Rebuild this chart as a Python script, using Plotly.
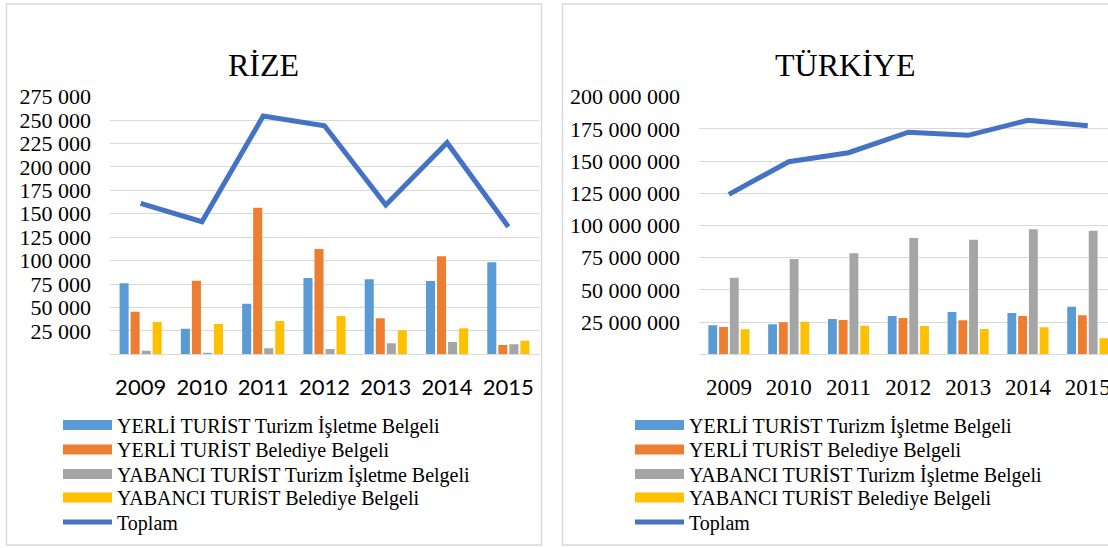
import plotly.graph_objects as go

# ---------------- data ----------------
years = ["2009", "2010", "2011", "2012", "2013", "2014", "2015"]
series_names = [
    "YERLİ TURİST Turizm İşletme Belgeli",
    "YERLİ TURİST Belediye Belgeli",
    "YABANCI TURİST Turizm İşletme Belgeli",
    "YABANCI TURİST Belediye Belgeli",
]
total_name = "Toplam"
titles = ["RİZE", "TÜRKİYE"]

rize_yerli_isletme = [75800, 27300, 54000, 81500, 80100, 78300, 98200]
rize_yerli_belediye = [45500, 78600, 156500, 112400, 38400, 104600, 9900]
rize_yabanci_isletme = [3800, 1400, 6400, 5700, 11700, 13100, 10700]
rize_yabanci_belediye = [34500, 32300, 35500, 40900, 25600, 27800, 14500]
rize_toplam = [161200, 141500, 254400, 244000, 159400, 225900, 136200]

tr_yerli_isletme = [22500000, 23300000, 27400000, 29700000, 32800000, 32100000, 37000000]
tr_yerli_belediye = [21200000, 24800000, 26600000, 28200000, 26400000, 29700000, 30300000]
tr_yabanci_isletme = [59500000, 74000000, 78400000, 90300000, 89000000, 97000000, 96000000]
tr_yabanci_belediye = [19400000, 25300000, 22200000, 22000000, 19600000, 21000000, 12400000]
tr_toplam = [124200000, 149500000, 156500000, 172400000, 170000000, 181700000, 177500000]

rize_ticks = [25000, 50000, 75000, 100000, 125000, 150000, 175000, 200000, 225000, 250000, 275000]
tr_ticks = [25000000, 50000000, 75000000, 100000000, 125000000, 150000000, 175000000, 200000000]

# ---------------- styles ----------------
bar_colors = ["#5B9BD5", "#ED7D31", "#A5A5A5", "#FFC000"]
line_color = "#4472C4"
grid_color = "#D9D9D9"
serif = "Liberation Serif"
W, H = 1108, 548

def px_x(v):
    return v / W

def px_y(v):
    return 1 - v / H

fig = go.Figure()

rize_series = [rize_yerli_isletme, rize_yerli_belediye, rize_yabanci_isletme, rize_yabanci_belediye]
tr_series = [tr_yerli_isletme, tr_yerli_belediye, tr_yabanci_isletme, tr_yabanci_belediye]

for vals, col in zip(rize_series, bar_colors):
    fig.add_trace(go.Bar(x=years, y=vals, marker=dict(color=col, line=dict(width=0)),
                         showlegend=False, xaxis="x", yaxis="y"))
fig.add_trace(go.Scatter(x=years, y=rize_toplam, mode="lines",
                         line=dict(color=line_color, width=5), showlegend=False,
                         xaxis="x", yaxis="y"))

for vals, col in zip(tr_series, bar_colors):
    fig.add_trace(go.Bar(x=years, y=vals, marker=dict(color=col, line=dict(width=0)),
                         showlegend=False, xaxis="x2", yaxis="y2"))
fig.add_trace(go.Scatter(x=years, y=tr_toplam, mode="lines",
                         line=dict(color=line_color, width=5), showlegend=False,
                         xaxis="x2", yaxis="y2"))

# legend entries: one legend per row so the row spacing matches the original
row_centers = [425, 449.5, 474, 497.5, 522]
legend_x = [58, 630]
legend_defs = {}
idx = 0
for chart, (xa, ya) in enumerate([("x", "y"), ("x2", "y2")]):
    names = series_names + [total_name]
    colors = bar_colors + [line_color]
    widths = [10, 10, 10, 10, 5]
    for r, (name, col, lw) in enumerate(zip(names, colors, widths)):
        idx += 1
        key = "legend" if idx == 1 else f"legend{idx}"
        fig.add_trace(go.Scatter(x=[None], y=[None], mode="lines", name=name,
                                 line=dict(color=col, width=lw), legend=key,
                                 xaxis=xa, yaxis=ya))
        legend_defs[key] = dict(
            x=px_x(legend_x[chart]), y=px_y(row_centers[r]), xanchor="left", yanchor="middle",
            font=dict(family=serif, size=20, color="#000"), itemwidth=49,
            bgcolor="rgba(0,0,0,0)", borderwidth=0)

ydom = [px_y(354.3), px_y(96.7)]
common_y = dict(showgrid=True, gridcolor=grid_color, gridwidth=1.3, zeroline=False,
                ticks="", tickfont=dict(family=serif, size=22, color="#000"),
                ticklabelstandoff=18, domain=ydom, fixedrange=True)
common_x = dict(type="category", showgrid=False, zeroline=False, showline=True,
                linecolor=grid_color, linewidth=1.3, ticks="", fixedrange=True)

fig.update_layout(
    width=W, height=H,
    margin=dict(l=0, r=0, t=0, b=0, autoexpand=False),
    paper_bgcolor="white", plot_bgcolor="white",
    separators=", ",
    barmode="group", bargap=0.28, bargroupgap=0.18,
    xaxis=dict(**common_x, domain=[px_x(110), px_x(539)], range=[-0.5, 6.5],
               tickfont=dict(family="Lato", size=22, color="#000"), ticklabelstandoff=13),
    yaxis=dict(**common_y, range=[0, 275000], tickvals=rize_ticks, tickformat=",d"),
    xaxis2=dict(**common_x, domain=[px_x(699), 1.0], range=[-0.5, 6.338],
                tickfont=dict(family=serif, size=23, color="#000"), ticklabelstandoff=12, anchor="y2"),
    yaxis2=dict(**common_y, range=[0, 200000000], tickvals=tr_ticks, tickformat=",d", anchor="x2"),
    annotations=[
        dict(text=titles[0], x=px_x(263), y=px_y(65), xref="paper", yref="paper",
             xanchor="center", yanchor="middle",
             showarrow=False, font=dict(family=serif, size=32, color="#000")),
        dict(text=titles[1], x=px_x(845), y=px_y(65), xref="paper", yref="paper",
             xanchor="center", yanchor="middle",
             showarrow=False, font=dict(family=serif, size=32, color="#000")),
    ],
    shapes=[
        dict(type="rect", xref="paper", yref="paper", x0=px_x(6.5), x1=px_x(541.5),
             y0=px_y(545), y1=px_y(4), line=dict(color=grid_color, width=1.5), layer="below"),
        dict(type="rect", xref="paper", yref="paper", x0=px_x(562.5), x1=px_x(1130),
             y0=px_y(545), y1=px_y(4), line=dict(color=grid_color, width=1.5), layer="below"),
    ],
    **legend_defs,
)

fig.write_html("out.html", config={"displayModeBar": False},
               post_script="document.body.style.margin='0';")
